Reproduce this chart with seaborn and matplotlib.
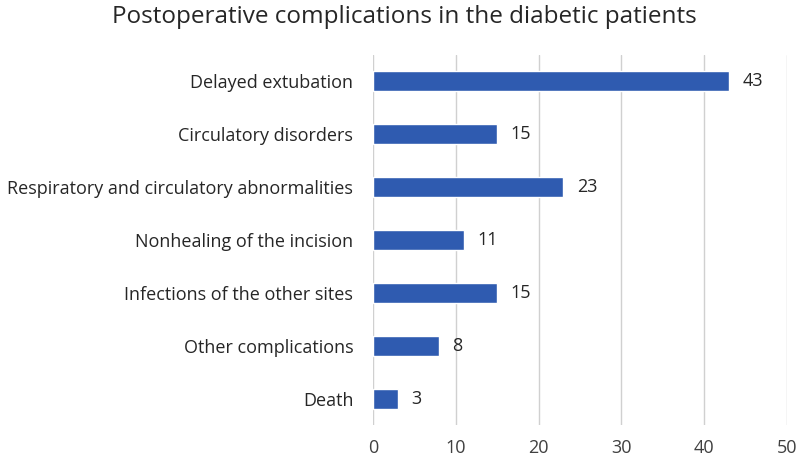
import matplotlib
matplotlib.use("Agg")
import matplotlib.pyplot as plt
import seaborn as sns
import pandas as pd

categories = [
    "Delayed extubation",
    "Circulatory disorders",
    "Respiratory and circulatory abnormalities",
    "Nonhealing of the incision",
    "Infections of the other sites",
    "Other complications",
    "Death",
]
counts = [43, 15, 23, 11, 15, 8, 3]
x_ticks = [0, 10, 20, 30, 40, 50]

df = pd.DataFrame({"Complication": categories, "Count": counts})

sns.set_theme(style="white")
plt.rcParams["font.family"] = ["Open Sans", "DejaVu Sans"]

fig = plt.figure(figsize=(8, 4.62), dpi=100)
ax = fig.add_axes([0.466, 0.080, 0.518, 0.801])

sns.barplot(data=df, x="Count", y="Complication", color="#2F5BB0",
            width=0.38, saturation=1, ax=ax, zorder=3)

for i, v in enumerate(counts):
    ax.text(v + 1.6, i, str(v), va="center", ha="left", fontsize=13,
            color="#262626")

ax.set_xlim(0, 50)
ax.set_ylim(6.5, -0.5)
ax.set_xticks(x_ticks)
ax.xaxis.grid(True, color="#D0D0D0", linewidth=1, zorder=0)
ax.tick_params(axis="x", labelsize=13, labelcolor="#404040", pad=10, length=0)
ax.tick_params(axis="y", labelsize=13, labelcolor="#262626", pad=14, length=0)
ax.set_xlabel("")
ax.set_ylabel("")
for side in ["top", "right", "bottom", "left"]:
    ax.spines[side].set_visible(False)

fig.suptitle("Postoperative complications in the diabetic patients",
             x=0.506, y=0.99, fontsize=17.5, color="#262626")

fig.savefig("out.png", dpi=100)
